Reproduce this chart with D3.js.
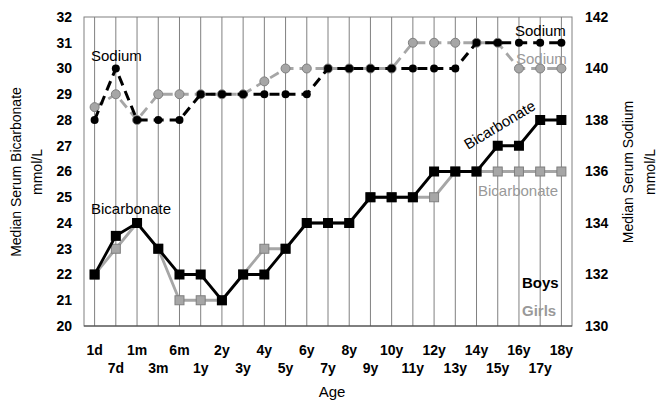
<!DOCTYPE html>
<html>
<head>
<meta charset="utf-8">
<script src="https://cdn.jsdelivr.net/npm/d3@7/dist/d3.min.js"></script>
<style>
  html, body { margin: 0; padding: 0; background: #fff; }
  svg { display: block; font-family: "Liberation Sans", Arial, sans-serif; }
</style>
</head>
<body>
<svg id="chart" width="664" height="401"></svg>
<script>
const categories = ["1d","7d","1m","3m","6m","1y","2y","3y","4y","5y","6y","7y","8y","9y","10y","11y","12y","13y","14y","15y","16y","17y","18y"];
const boysBicarbonate  = [22,23.5,24,23,22,22,21,22,22,23,24,24,24,25,25,25,26,26,26,27,27,28,28];
const girlsBicarbonate = [22,23,24,23,21,21,21,22,23,23,24,24,24,25,25,25,25,26,26,26,26,26,26];
const boysSodium  = [138,140,138,138,138,139,139,139,139,139,139,140,140,140,140,140,140,140,141,141,141,141,141];
const girlsSodium = [138.5,139,138,139,139,139,139,139,139.5,140,140,140,140,140,140,141,141,141,141,141,140,140,140];
const leftTicks  = [20,21,22,23,24,25,26,27,28,29,30,31,32];
const rightTicks = [130,132,134,136,138,140,142];

const svg = d3.select("#chart");
const L = 84, R = 572, T = 17, B = 326;

const x = d3.scaleBand().domain(categories).range([L, R]).padding(0);
const cx = c => x(c) + x.bandwidth() / 2;
const yL = d3.scaleLinear().domain([20, 32]).range([B, T]);
const yR = d3.scaleLinear().domain([130, 142]).range([B, T]);

const GRAY = "#a6a6a6", GRAY_DARK = "#7f7f7f";

// frame
svg.append("rect").attr("x", L).attr("y", T).attr("width", R - L).attr("height", B - T)
  .attr("fill", "none").attr("stroke", "#808080").attr("stroke-width", 1);

// vertical gridlines
svg.append("g").selectAll("line").data(categories).join("line")
  .attr("x1", d => cx(d)).attr("x2", d => cx(d)).attr("y1", T).attr("y2", B)
  .attr("stroke", "#808080").attr("stroke-width", 1);

// bottom axis line
svg.append("line").attr("x1", L).attr("x2", R).attr("y1", B).attr("y2", B)
  .attr("stroke", "#404040").attr("stroke-width", 1.2);

// left axis
const leftAxis = d3.axisLeft(yL).tickValues(leftTicks).tickSize(0).tickPadding(12);
const gl = svg.append("g").attr("transform", `translate(${L},0)`).call(leftAxis);
gl.select(".domain").remove();
gl.selectAll("text").attr("font-size", 14).attr("font-weight", "bold").attr("fill", "#000")
  .attr("font-family", "Liberation Sans, Arial, sans-serif");

// right axis
const rightAxis = d3.axisRight(yR).tickValues(rightTicks).tickSize(0).tickPadding(13);
const gr = svg.append("g").attr("transform", `translate(${R},0)`).call(rightAxis);
gr.select(".domain").remove();
gr.selectAll("text").attr("font-size", 14).attr("font-weight", "bold").attr("fill", "#000")
  .attr("font-family", "Liberation Sans, Arial, sans-serif");

// bottom category labels (two rows)
svg.append("g").selectAll("text").data(categories).join("text")
  .attr("x", d => cx(d))
  .attr("y", (d, i) => i % 2 === 0 ? 355 : 373)
  .attr("text-anchor", "middle").attr("font-size", 14).attr("font-weight", "bold")
  .text(d => d);

// axis titles
svg.append("text").attr("x", 332).attr("y", 397).attr("text-anchor", "middle")
  .attr("font-size", 15).text("Age");
svg.append("text").attr("transform", "translate(21,172) rotate(-90)").attr("text-anchor", "middle")
  .attr("font-size", 14).text("Median Serum Bicarbonate");
svg.append("text").attr("transform", "translate(42,172) rotate(-90)").attr("text-anchor", "middle")
  .attr("font-size", 14).text("mmol/L");
svg.append("text").attr("transform", "translate(633,172) rotate(-90)").attr("text-anchor", "middle")
  .attr("font-size", 14).text("Median Serum Sodium");
svg.append("text").attr("transform", "translate(655,172) rotate(-90)").attr("text-anchor", "middle")
  .attr("font-size", 14).text("mmol/L");

// series
const lineL = d3.line().x((d, i) => cx(categories[i])).y(d => yL(d));
const lineR = d3.line().x((d, i) => cx(categories[i])).y(d => yR(d));

// girls sodium
svg.append("path").datum(girlsSodium).attr("d", lineR).attr("fill", "none")
  .attr("stroke", GRAY).attr("stroke-width", 2.8).attr("stroke-dasharray", "10,6");
svg.append("g").selectAll("circle").data(girlsSodium).join("circle")
  .attr("cx", (d, i) => cx(categories[i])).attr("cy", d => yR(d)).attr("r", 4.5)
  .attr("fill", GRAY).attr("stroke", GRAY_DARK).attr("stroke-width", 1);

// girls bicarbonate
svg.append("path").datum(girlsBicarbonate).attr("d", lineL).attr("fill", "none")
  .attr("stroke", GRAY).attr("stroke-width", 2.8);
svg.append("g").selectAll("rect").data(girlsBicarbonate).join("rect")
  .attr("x", (d, i) => cx(categories[i]) - 4.5).attr("y", d => yL(d) - 4.5)
  .attr("width", 9).attr("height", 9)
  .attr("fill", GRAY).attr("stroke", GRAY_DARK).attr("stroke-width", 1);

// boys sodium
svg.append("path").datum(boysSodium).attr("d", lineR).attr("fill", "none")
  .attr("stroke", "#000").attr("stroke-width", 3).attr("stroke-dasharray", "10,6");
svg.append("g").selectAll("circle").data(boysSodium).join("circle")
  .attr("cx", (d, i) => cx(categories[i])).attr("cy", d => yR(d)).attr("r", 4)
  .attr("fill", "#000");

// boys bicarbonate
svg.append("path").datum(boysBicarbonate).attr("d", lineL).attr("fill", "none")
  .attr("stroke", "#000").attr("stroke-width", 2.8);
svg.append("g").selectAll("rect").data(boysBicarbonate).join("rect")
  .attr("x", (d, i) => cx(categories[i]) - 5).attr("y", d => yL(d) - 5)
  .attr("width", 10).attr("height", 10).attr("fill", "#000");

// annotations
svg.append("text").attr("x", 91).attr("y", 61).attr("font-size", 15).text("Sodium");
svg.append("text").attr("x", 91).attr("y", 214).attr("font-size", 15).text("Bicarbonate");
svg.append("text").attr("x", 515).attr("y", 36).attr("font-size", 15).text("Sodium");
svg.append("text").attr("x", 516).attr("y", 64).attr("font-size", 15).attr("fill", "#999").text("Sodium");
svg.append("text").attr("transform", "translate(468,150) rotate(-31)").attr("font-size", 15).text("Bicarbonate");
svg.append("text").attr("x", 478).attr("y", 196).attr("font-size", 15).attr("fill", "#999").text("Bicarbonate");
svg.append("text").attr("x", 522).attr("y", 288).attr("font-size", 15).attr("font-weight", "bold").text("Boys");
svg.append("text").attr("x", 522).attr("y", 316).attr("font-size", 15).attr("font-weight", "bold").attr("fill", "#999").text("Girls");
</script>
</body>
</html>
